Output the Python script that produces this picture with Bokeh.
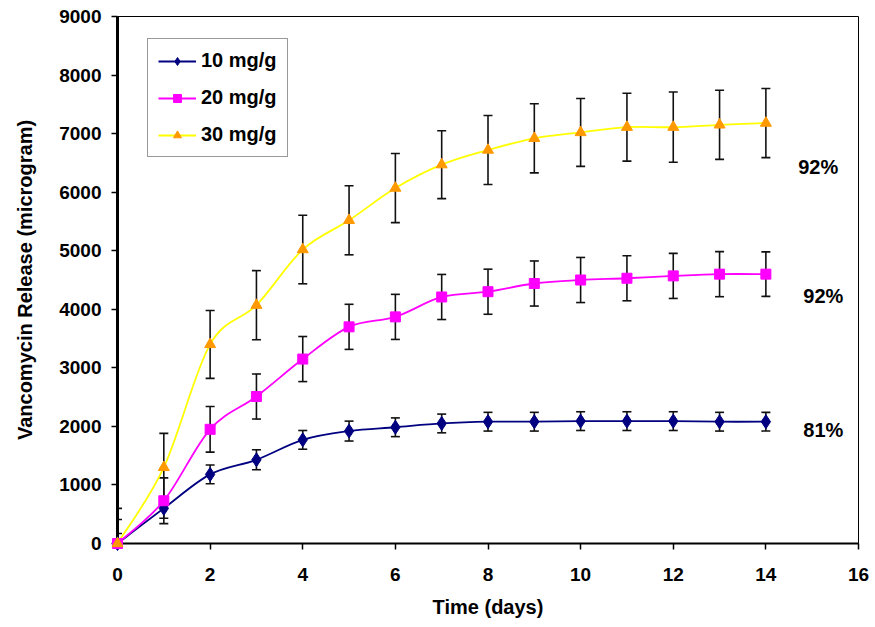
from bokeh.plotting import figure
from bokeh.models import (ColumnDataSource, Range1d, Whisker, TeeHead, Legend, LegendItem,
                          FixedTicker, Label)
from bokeh.embed import file_html
from bokeh.resources import INLINE

# ---------------- data ----------------
days = [0, 1, 2, 3, 4, 5, 6, 7, 8, 9, 10, 11, 12, 13, 14]
rel_10 = [0, 600, 1180, 1430, 1770, 1920, 1985, 2050, 2080, 2080, 2090, 2090, 2090, 2080, 2080]
err_10 = [170, 170, 160, 170, 160, 170, 160, 160, 160, 160, 160, 160, 160, 160, 160]
rel_20 = [0, 730, 1950, 2510, 3150, 3700, 3870, 4210, 4300, 4440, 4500, 4530, 4570, 4600, 4600]
err_20 = [410, 390, 390, 385, 385, 385, 385, 385, 385, 385, 385, 385, 385, 385, 380]
rel_30 = [0, 1300, 3400, 4070, 5020, 5520, 6070, 6470, 6720, 6920, 7020, 7110, 7110, 7150, 7180]
err_30 = [600, 580, 580, 590, 585, 590, 590, 580, 590, 590, 580, 580, 600, 590, 590]
series_names = ["10 mg/g", "20 mg/g", "30 mg/g"]
pct_labels = ["81%", "92%", "92%"]
pct_x = [15.24, 15.24, 15.13]
pct_y = [1934, 4227, 6434]
x_ticks = [0, 2, 4, 6, 8, 10, 12, 14, 16]
y_ticks = [0, 1000, 2000, 3000, 4000, 5000, 6000, 7000, 8000, 9000]

FONT = "Liberation Sans"

p = figure(width=875, height=627, output_backend="svg", toolbar_location=None,
           x_range=Range1d(0, 16), y_range=Range1d(0, 9000),
           min_border_left=117, min_border_right=17, min_border_top=16, min_border_bottom=84)
p.outline_line_color = "black"
p.outline_line_width = 1
p.xgrid.visible = False
p.ygrid.visible = False
p.background_fill_color = "white"
p.border_fill_color = "white"

for ax in (p.xaxis[0], p.yaxis[0]):
    ax.axis_line_color = "black"
    ax.major_tick_line_color = "black"
    ax.major_tick_out = 6
    ax.major_tick_in = 0
    ax.minor_tick_line_color = None
    ax.major_label_text_font = FONT
    ax.major_label_text_font_style = "bold"
    ax.major_label_text_font_size = "19px"
    ax.major_label_text_color = "black"
    ax.axis_label_text_font = FONT
    ax.axis_label_text_font_style = "bold"
    ax.axis_label_text_font_size = "20px"
    ax.axis_label_text_color = "black"
p.xaxis.axis_line_width = 2
p.yaxis.axis_line_width = 3
p.xaxis.major_tick_line_width = 1.5
p.yaxis.major_tick_line_width = 1.5
p.xaxis.ticker = FixedTicker(ticks=x_ticks)
p.yaxis.ticker = FixedTicker(ticks=y_ticks)
p.xaxis.axis_label = "Time (days)"
p.yaxis.axis_label = "Vancomycin Release (microgram)"
p.xaxis.major_label_standoff = 18
p.yaxis.major_label_standoff = 10
p.xaxis.axis_label_standoff = 12
p.yaxis.axis_label_standoff = 20


def bezier_source(xs, ys):
    n = len(xs)
    d = dict(x0=[], y0=[], x1=[], y1=[], cx0=[], cy0=[], cx1=[], cy1=[])
    t = 6.0
    for i in range(n - 1):
        xm1, ym1 = (xs[i - 1], ys[i - 1]) if i > 0 else (xs[i], ys[i])
        x2, y2 = (xs[i + 2], ys[i + 2]) if i + 2 < n else (xs[i + 1], ys[i + 1])
        d["x0"].append(xs[i]); d["y0"].append(ys[i])
        d["x1"].append(xs[i + 1]); d["y1"].append(ys[i + 1])
        d["cx0"].append(xs[i] + (xs[i + 1] - xm1) / t)
        d["cy0"].append(ys[i] + (ys[i + 1] - ym1) / t)
        d["cx1"].append(xs[i + 1] - (x2 - xs[i]) / t)
        d["cy1"].append(ys[i + 1] - (y2 - ys[i]) / t)
    return ColumnDataSource(d)


specs = [
    (rel_10, err_10, "#000080", "#000080", "diamond", 14),
    (rel_20, err_20, "#FF00FF", "#FF00FF", "square", 10),
    (rel_30, err_30, "#FFFF00", "#FF9900", "triangle", 11),
]

items = []
for (vals, errs, lc, mc, marker, size), name in zip(specs, series_names):
    src = ColumnDataSource(dict(x=days, y=vals,
                                lo=[v - e for v, e in zip(vals, errs)],
                                hi=[v + e for v, e in zip(vals, errs)]))
    w = Whisker(source=src, base="x", upper="hi", lower="lo", line_color="#111111", line_width=1.6,
                upper_head=TeeHead(size=9, line_color="#111111", line_width=1.6),
                lower_head=TeeHead(size=9, line_color="#111111", line_width=1.6),
                level="underlay")
    p.add_layout(w)
    bz = p.bezier(x0="x0", y0="y0", x1="x1", y1="y1", cx0="cx0", cy0="cy0", cx1="cx1", cy1="cy1",
                  source=bezier_source(days, vals), line_color=lc, line_width=1.8)
    sc = p.scatter("x", "y", source=src, marker=marker, size=size, fill_color=mc, line_color=mc,
                   level="overlay")
    items.append(LegendItem(label=name, renderers=[bz, sc]))

for t, x, y in zip(pct_labels, pct_x, pct_y):
    p.add_layout(Label(x=x, y=y, text=t, text_font=FONT, text_font_style="bold",
                       text_font_size="20px", text_align="center", text_baseline="middle",
                       text_color="black"))

legend = Legend(items=items, location=(30, 386), orientation="vertical")
legend.label_text_font = FONT
legend.label_text_font_style = "bold"
legend.label_text_font_size = "20px"
legend.label_text_color = "black"
legend.label_height = 20
legend.glyph_height = 20
legend.glyph_width = 38
legend.label_standoff = 5
legend.spacing = 14
legend.padding = 10
legend.margin = 0
legend.border_line_color = "#333333"
legend.border_line_width = 1
legend.background_fill_color = "white"
legend.background_fill_alpha = 1
p.add_layout(legend, "center")

open("out.html", "w").write(file_html(p, INLINE))
